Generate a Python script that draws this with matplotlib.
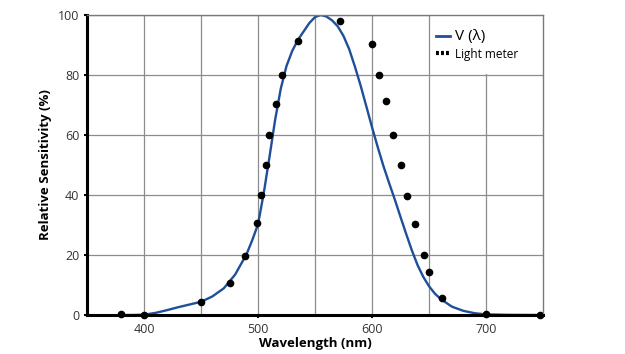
import numpy as np
import matplotlib.pyplot as plt
from matplotlib.lines import Line2D
from matplotlib.patches import Rectangle

# V(lambda) curve
v_nm = [380, 390, 400, 410, 420, 430, 440, 450, 460, 470, 480, 490, 495, 500, 505, 510,
        515, 520, 525, 530, 535, 540, 545, 550, 555, 560, 565, 570, 575, 580, 585,
        590, 595, 600, 605, 610, 615, 620, 625, 630, 635, 640, 645, 650, 655, 660,
        670, 680, 690, 700, 720, 750]
v_val = [0, 0, 0.1, 0.7, 1.6, 2.6, 3.5, 4.4, 6.2, 8.9, 13.5, 20.3, 25, 30.2, 40.5, 52.5,
         65, 75.5, 83, 88, 91.7, 94.5, 97.3, 99.3, 100, 99.5, 98.2, 96.2, 93, 88.6, 82.8,
         76.5, 69.6, 62.6, 56, 49.7, 44, 38.5, 32.7, 27, 21.5, 16.6, 12.7, 9.6, 7.2, 5.4,
         2.8, 1.4, 0.6, 0.2, 0.05, 0]

# light meter readings
m_nm = [380, 400, 450, 475, 489, 499, 503, 507, 510, 515.5, 521, 535, 572, 600, 606,
        612, 618.5, 625.5, 630.5, 638, 645.5, 650, 661.5, 700, 747]
m_val = [0.2, 0, 4.5, 10.8, 19.8, 30.6, 40, 50, 60, 70.2, 80.1, 91.4, 98.1, 90.4, 80,
         71.4, 60.1, 50.1, 39.8, 30.4, 20, 14.4, 5.7, 0.2, 0]

blue = '#1f4f99'
fig = plt.figure(figsize=(6.25, 3.54), dpi=100)
ax = fig.add_axes([87/625, 1-315/354, 456/625, 300/354])

ax.plot(v_nm, v_val, '-', color=blue, lw=1.7, zorder=3, solid_capstyle='round', solid_joinstyle='round')
ax.plot(m_nm, m_val, 'o', color='black', ms=4.5, zorder=4, clip_on=False)

ax.set_xlim(350, 750)
ax.set_ylim(0, 100)
ax.set_xticks([400, 500, 600, 700])
ax.set_xticks([450, 550, 650], minor=True)
ax.set_yticks([0, 20, 40, 60, 80, 100])
ax.grid(True, which='both', color='#8c8c8c', lw=0.9)
ax.set_axisbelow(True)

for s in ['top', 'right']:
    ax.spines[s].set_color('#7a7a7a')
    ax.spines[s].set_linewidth(1.0)
for s in ['left', 'bottom']:
    ax.spines[s].set_color('black')
    ax.spines[s].set_linewidth(2.2)
for s in ax.spines.values():
    s.set_zorder(6)

ax.tick_params(axis='both', which='major', length=2.5, width=1.5, color='black',
               labelsize=9, labelcolor='#333333', pad=3)
ax.tick_params(axis='x', which='minor', length=0)
for lab in ax.get_xticklabels() + ax.get_yticklabels():
    lab.set_fontfamily('Open Sans')

ax.set_xlabel('Wavelength (nm)', fontsize=9.5, fontweight='bold', fontfamily='Open Sans', labelpad=1)
ax.set_ylabel('Relative Sensitivity (%)', fontsize=9.5, fontweight='bold', fontfamily='Open Sans', labelpad=4)

# white legend area (650 grid line stays visible)
ax.add_patch(Rectangle((0.754, 0.803), 0.246, 0.197, transform=ax.transAxes,
                       facecolor='white', edgecolor='none', zorder=2.5))

handles = [Line2D([0], [0], color=blue, lw=2),
           Line2D([0], [0], color='black', lw=3, linestyle=(0, (0.7, 0.5)))]
leg = ax.legend(handles, ['V (λ)', 'Light meter'], loc='upper left',
                bbox_to_anchor=(0.758, 0.965), frameon=False,
                handlelength=1.2, handletextpad=0.4, borderpad=0.3, labelspacing=0.3,
                borderaxespad=0.0, prop={'family': 'Open Sans', 'size': 8.5})
leg.get_texts()[0].set_fontsize(11)

fig.savefig('out.png', dpi=100)
